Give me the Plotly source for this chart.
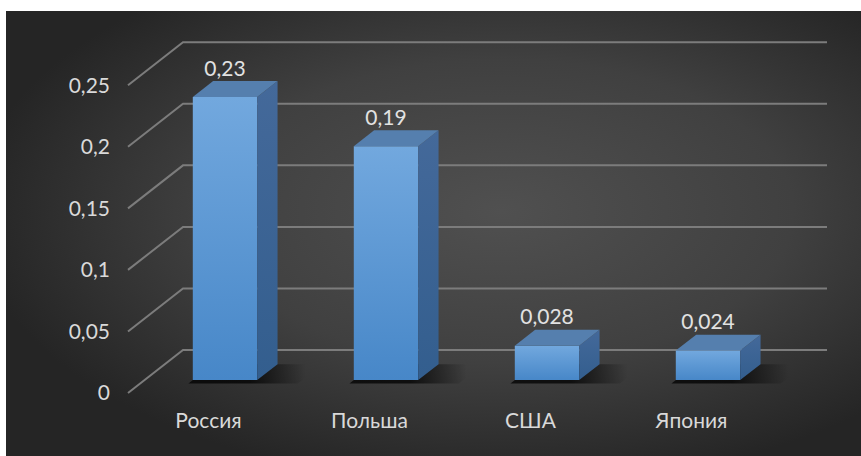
import base64
import plotly.graph_objects as go

# ---- data ----
countries = ["Россия", "Польша", "США", "Япония"]
values = [0.23, 0.19, 0.028, 0.024]
value_labels = ["0,23", "0,19", "0,028", "0,024"]
tick_values = [0, 0.05, 0.1, 0.15, 0.2, 0.25]
tick_labels = ["0", "0,05", "0,1", "0,15", "0,2", "0,25"]

# ---- oblique 3-D projection onto a flat cartesian plot ----
W, H = 861, 456
X0, SX = 208.5, 161.0      # screen x of category 0 on the front plane, px per category
Y0, SY = 393.0, 1231.0     # screen y of value 0 on the front plane, px per unit value
DX, DY = 55.0, 43.0        # screen shift from the front plane to the back wall
KX, KV = DX / SX, DY / SY
HALF_W = 0.2               # half bar width, in category units
D_FRONT, D_BACK = 0.30, 0.67
WALL_L, WALL_R = -0.5, len(countries) - 0.5

FONT = "Lato, 'Noto Sans', sans-serif"
TEXT_COL = "#d9d9d9"


def proj(u, v, d):
    return u + d * KX, v + d * KV


def poly(points):
    xs, ys = zip(*[proj(*p) for p in points + points[:1]])
    return list(xs), list(ys)


fig = go.Figure()

# gridlines: diagonal on the side wall, horizontal on the back wall
gx, gy = [], []
for t in tick_values:
    for p in [(WALL_L, t, 0), (WALL_L, t, 1), (WALL_R, t, 1)]:
        x, y = proj(*p)
        gx.append(x)
        gy.append(y)
    gx.append(None)
    gy.append(None)
fig.add_trace(go.Scatter(x=gx, y=gy, mode="lines",
                         line=dict(color="#7c7c7c", width=2),
                         hoverinfo="skip"))

# soft floor shadows to the right of each bar
for i, v in enumerate(values):
    xs, ys = poly([(i - HALF_W, 0, D_FRONT - 0.08), (i + HALF_W + 0.28, 0, D_FRONT - 0.08),
                   (i + HALF_W + 0.28, 0, D_BACK), (i - HALF_W, 0, D_BACK)])
    sx = proj(i + HALF_W, 0, D_FRONT)[0]
    fig.add_trace(go.Scatter(
        x=xs, y=ys, mode="lines", fill="toself", line=dict(width=0),
        fillgradient=dict(type="horizontal", start=sx - 0.05, stop=sx + 0.3,
                          colorscale=[[0, "rgba(0,0,0,0.75)"], [1, "rgba(0,0,0,0)"]]),
        hoverinfo="skip"))

# bars: front, side and top faces
for i, v in enumerate(values):
    xs, ys = poly([(i - HALF_W, 0, D_FRONT), (i + HALF_W, 0, D_FRONT),
                   (i + HALF_W, v, D_FRONT), (i - HALF_W, v, D_FRONT)])
    fig.add_trace(go.Scatter(
        x=xs, y=ys, mode="lines", fill="toself", line=dict(width=0),
        fillgradient=dict(type="vertical",
                          colorscale=[[0, "#4787c8"], [1, "#72a8de"]]),
        hoverinfo="skip"))
    xs, ys = poly([(i + HALF_W, 0, D_FRONT), (i + HALF_W, 0, D_BACK),
                   (i + HALF_W, v, D_BACK), (i + HALF_W, v, D_FRONT)])
    fig.add_trace(go.Scatter(
        x=xs, y=ys, mode="lines", fill="toself", line=dict(width=0),
        fillgradient=dict(type="vertical",
                          colorscale=[[0, "#335e8e"], [1, "#44699a"]]),
        hoverinfo="skip"))
    xs, ys = poly([(i - HALF_W, v, D_FRONT), (i + HALF_W, v, D_FRONT),
                   (i + HALF_W, v, D_BACK), (i - HALF_W, v, D_BACK)])
    fig.add_trace(go.Scatter(
        x=xs, y=ys, mode="lines", fill="toself", line=dict(width=0),
        fillcolor="#557fae", hoverinfo="skip"))

# value labels above the bars
fig.add_trace(go.Scatter(
    x=[proj(i, 0, D_FRONT)[0] for i in range(len(values))],
    y=[proj(0, v, D_BACK)[1] for v in values],
    mode="text", text=value_labels, textposition="top center",
    textfont=dict(family=FONT, size=21, color="#e2e2e2"),
    hoverinfo="skip"))

# value axis labels
fig.add_trace(go.Scatter(
    x=[WALL_L - 18 / SX] * len(tick_values),
    y=[t - 2 / SY for t in tick_values],
    mode="text", text=tick_labels, textposition="middle left",
    textfont=dict(family=FONT, size=21, color=TEXT_COL),
    hoverinfo="skip"))

# category labels
fig.add_trace(go.Scatter(
    x=list(range(len(countries))),
    y=[-30 / SY] * len(countries),
    mode="text", text=countries, textposition="middle center",
    textfont=dict(family=FONT, size=21, color=TEXT_COL),
    hoverinfo="skip"))

# dark radial-gradient chart background
svg = f"""<svg xmlns='http://www.w3.org/2000/svg' width='{W}' height='{H}' viewBox='0 0 {W} {H}'>
<defs><radialGradient id='g' cx='0.58' cy='0.45' r='0.62'>
<stop offset='0' stop-color='#505050'/><stop offset='0.55' stop-color='#404040'/>
<stop offset='1' stop-color='#252525'/></radialGradient></defs>
<rect x='6' y='11' width='{W - 6}' height='{H - 11}' fill='url(#g)'/></svg>"""
bg = "data:image/svg+xml;base64," + base64.b64encode(svg.encode()).decode()

fig.update_layout(
    width=W, height=H,
    margin=dict(l=0, r=0, t=0, b=0),
    paper_bgcolor="white", plot_bgcolor="rgba(0,0,0,0)",
    showlegend=False,
    images=[dict(source=bg, xref="paper", yref="paper", x=0, y=1,
                 sizex=1, sizey=1, xanchor="left", yanchor="top",
                 sizing="stretch", layer="below")],
    xaxis=dict(range=[-X0 / SX, (W - X0) / SX], visible=False, fixedrange=True),
    yaxis=dict(range=[(Y0 - H) / SY, Y0 / SY], visible=False, fixedrange=True),
)

fig.write_html("out.html")
